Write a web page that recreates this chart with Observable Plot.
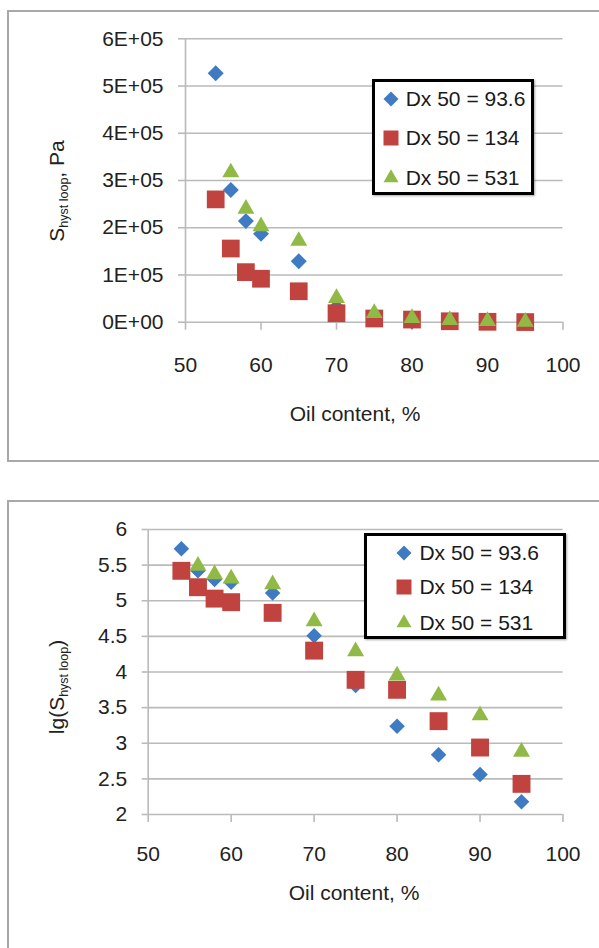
<!DOCTYPE html>
<html>
<head>
<meta charset="utf-8">
<script src="https://cdn.jsdelivr.net/npm/d3@7"></script>
<script src="https://cdn.jsdelivr.net/npm/@observablehq/plot@0.6"></script>
<style>
  html, body { margin: 0; padding: 0; background: #fff; overflow: hidden; }
  body { width: 599px; height: 948px; position: relative; font-family: "Liberation Sans", Arial, sans-serif; color: #222; }
  .frame { position: absolute; border: 2px solid #a8a8a8; box-sizing: border-box; }
  .abs { position: absolute; }
  .ytitle { position: absolute; white-space: nowrap; font-size: 21px; transform: translate(-50%, -50%) rotate(-90deg); }
  .ytitle sub { font-size: 12.5px; vertical-align: -0.35em; line-height: 0; }
  .xtitle { position: absolute; white-space: nowrap; font-size: 21px; transform: translate(-50%, -50%); }
  .legend { position: absolute; border: 3px solid #000; box-sizing: border-box; background: #fff; box-shadow: 1px 1px 2px rgba(0,0,0,0.35); }
  .legend .lt { position: absolute; font-size: 21px; line-height: 24px; white-space: nowrap; color: #1a1a1a; }
  .legend svg { position: absolute; overflow: visible; }
</style>
</head>
<body>
<div class="frame" style="left:7px; top:10px; width:620px; height:452px;"></div>
<div class="frame" style="left:7px; top:500px; width:620px; height:480px;"></div>
<div id="top" class="abs" style="left:0; top:0;"></div>
<div id="bot" class="abs" style="left:0; top:480px;"></div>
<div class="ytitle" style="left:57px; top:191px;">S<sub>hyst loop</sub>, Pa</div>
<div class="ytitle" style="left:57px; top:687px;">lg(S<sub>hyst loop</sub>)</div>
<div class="xtitle" style="left:355px; top:414px;">Oil content, %</div>
<div class="xtitle" style="left:354px; top:893px;">Oil content, %</div>
<script>
// ---- data ----
const oil = [54, 56, 58, 60, 65, 70, 75, 80, 85, 90, 95];
const seriesNames = ["Dx 50 = 93.6", "Dx 50 = 134", "Dx 50 = 531"];
// top panel: S hyst loop, Pa
const s936 = [527000, 280000, 214000, 187000, 129000, 32000, 6600, 1700, 700, 360, 150];
const s134 = [260000, 156000, 106000, 92000, 65500, 19000, 7800, 5600, 2000, 870, 270];
const s531 = [null, 317000, 240000, 203000, 172000, 51000, 19500, 8900, 4700, 2500, 790];
// bottom panel: lg(S hyst loop)
const lg936 = [5.73, 5.42, 5.30, 5.26, 5.11, 4.51, 3.81, 3.24, 2.84, 2.56, 2.18];
const lg134 = [5.42, 5.19, 5.03, 4.98, 4.83, 4.30, 3.89, 3.75, 3.31, 2.94, 2.43];
const lg531 = [null, 5.49, 5.37, 5.31, 5.23, 4.71, 4.29, 3.95, 3.67, 3.39, 2.88];
// ticks
const xTicks = [50, 60, 70, 80, 90, 100];
const yTicksTop = [0, 100000, 200000, 300000, 400000, 500000, 600000];
const yTicksBot = [2, 2.5, 3, 3.5, 4, 4.5, 5, 5.5, 6];
const yLabelsTop = ["0E+00", "1E+05", "2E+05", "3E+05", "4E+05", "5E+05", "6E+05"];

const colors = ["#3F7BC2", "#C0433F", "#90BA45"];
const symbols = ["diamond2", "square", "triangle"];
const gridColor = "#bababa";

function rows(vals) {
  return oil.map((x, i) => ({x, y: vals[i]})).filter(d => d.y != null);
}

function dots(seriesVals, rs) {
  return seriesVals.map((vals, i) =>
    Plot.dot(rows(vals), {x: "x", y: "y", symbol: symbols[i], fill: colors[i], stroke: "none", r: rs[i]})
  );
}

const baseStyle = {background: "transparent", fontFamily: "'Liberation Sans', Arial, sans-serif", fontSize: "21px", color: "#222", overflow: "visible"};

const topPlot = Plot.plot({
  width: 599, height: 470,
  marginLeft: 185, marginRight: 36.5, marginTop: 38.3, marginBottom: 148.3,
  style: baseStyle,
  x: {domain: [50, 100], label: null},
  y: {domain: [0, 600000], label: null},
  marks: [
    Plot.gridY({ticks: yTicksTop, stroke: gridColor, strokeOpacity: 1, strokeWidth: 1.6}),
    Plot.ruleX([50], {stroke: gridColor, strokeWidth: 1.6}),
    Plot.axisY({ticks: yTicksTop, tickSize: 7, tickPadding: 15, stroke: gridColor, strokeWidth: 1.6,
      tickFormat: d => yLabelsTop[yTicksTop.indexOf(d)], label: null, fill: "#222"}),
    Plot.axisX({ticks: xTicks, tickSize: 8, tickPadding: 27, stroke: gridColor, strokeWidth: 1.6, label: null, fill: "#222"}),
    ...dots([s936, s134, s531], [7.2, 10, 6.3])
  ]
});
document.getElementById("top").appendChild(topPlot);

const botPlot = Plot.plot({
  width: 599, height: 468,
  marginLeft: 147.7, marginRight: 36.5, marginTop: 49, marginBottom: 134,
  style: baseStyle,
  x: {domain: [50, 100], label: null},
  y: {domain: [2, 6], label: null},
  marks: [
    Plot.gridY({ticks: yTicksBot, stroke: gridColor, strokeOpacity: 1, strokeWidth: 1.6}),
    Plot.ruleX([50], {stroke: gridColor, strokeWidth: 1.6}),
    Plot.axisY({ticks: yTicksBot, tickSize: 6, tickPadding: 15, stroke: gridColor, strokeWidth: 1.6,
      tickFormat: d => String(d), label: null, fill: "#222"}),
    Plot.axisX({ticks: xTicks, tickSize: 8, tickPadding: 24, stroke: gridColor, strokeWidth: 1.6, label: null, fill: "#222"}),
    ...dots([lg936, lg134, lg531], [7.0, 10.1, 6.3])
  ]
});
document.getElementById("bot").appendChild(botPlot);

// ---- legends (HTML) ----
const symSizes = [143, 225, 97];
function legend(box, rowsY, symX, textX) {
  const div = document.createElement("div");
  div.className = "legend";
  Object.assign(div.style, {left: box[0] + "px", top: box[1] + "px", width: box[2] + "px", height: box[3] + "px"});
  seriesNames.forEach((name, i) => {
    const svg = d3.create("svg").attr("width", 1).attr("height", 1)
      .style("left", symX + "px").style("top", rowsY[i] + "px");
    svg.append("path")
      .attr("d", d3.symbol(i === 0 ? d3.symbolDiamond2 : i === 1 ? d3.symbolSquare : d3.symbolTriangle, symSizes[i])())
      .attr("fill", colors[i]);
    div.appendChild(svg.node());
    const t = document.createElement("div");
    t.className = "lt";
    t.textContent = name;
    Object.assign(t.style, {left: textX + "px", top: (rowsY[i] - 12) + "px"});
    div.appendChild(t);
  });
  document.body.appendChild(div);
}
legend([371.7, 79.3, 162.3, 115.7], [17, 56, 96], 16.6, 31);
legend([364.4, 533, 201.6, 106], [17, 51, 87], 37, 52);
</script>
</body>
</html>
